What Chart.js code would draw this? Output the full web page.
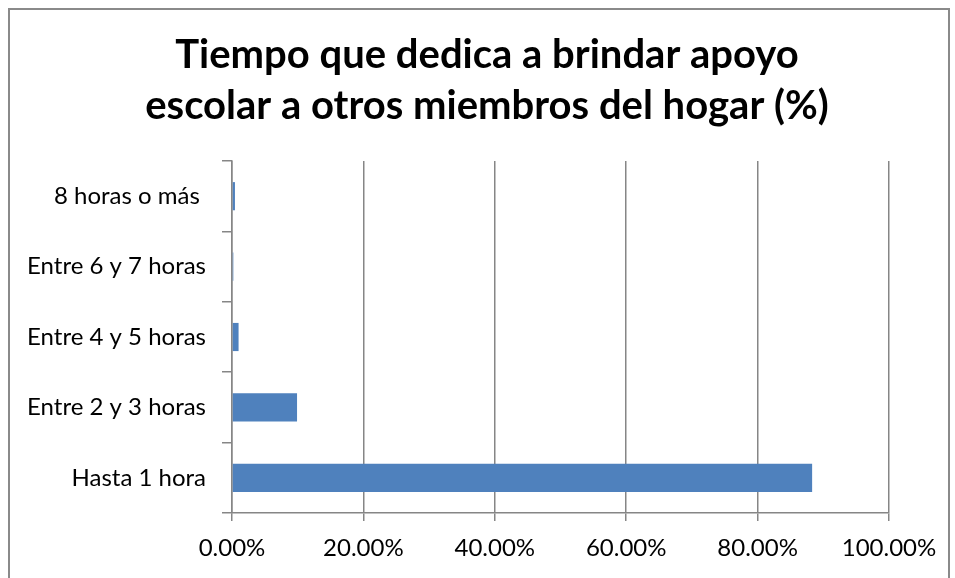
<!DOCTYPE html>
<html>
<head>
<meta charset="utf-8">
<script src="https://cdn.jsdelivr.net/npm/chart.js@4/dist/chart.umd.min.js"></script>
<style>
  html, body { margin: 0; padding: 0; background: #fff; }
  #wrap { position: relative; width: 955px; height: 578px; overflow: hidden; }
  #frame { position: absolute; left: 8px; top: 8px; width: 942px; height: 620px; border: 2px solid #8a8a8a; box-sizing: border-box; }
  canvas { position: absolute; left: 0; top: 0; }
</style>
</head>
<body>
<div id="wrap">
  <div id="frame"></div>
  <canvas id="tiempoChart" width="955" height="578"></canvas>
</div>
<script>
var categorias = ["8 horas o más ", "Entre 6 y 7 horas", "Entre 4 y 5 horas", "Entre 2 y 3 horas", "Hasta 1 hora"];
var porcentajes = [0.45, 0.2, 1.0, 9.9, 88.3];
var tituloLineas = ["Tiempo que dedica a brindar apoyo", "escolar a otros miembros del hogar (%)"];

var fuente = "Lato, 'Open Sans', sans-serif";

// titulo centrado sobre todo el lienzo, no solo sobre el area del grafico
var tituloPlugin = {
    id: "tituloCentrado",
    afterDraw: function (chart) {
        var c = chart.ctx;
        c.save();
        c.fillStyle = "#000";
        c.font = "bold 40px " + fuente;
        c.textAlign = "center";
        c.textBaseline = "middle";
        c.fillText(tituloLineas[0], 487, 55);
        c.fillText(tituloLineas[1], 487, 106);
        c.restore();
    },
};

function renderTiempoChart() {
    var ctx = document.getElementById("tiempoChart").getContext("2d");

    var myChart = new Chart(ctx, {
        type: "bar",
        data: {
            labels: categorias,
            datasets: [
                {
                    label: "Porcentaje",
                    data: porcentajes,
                    backgroundColor: "#4f81bd",
                    borderWidth: 0,
                    categoryPercentage: 0.8,
                    barPercentage: 0.5,
                },
            ],
        },
        options: {
            indexAxis: "y",
            responsive: false,
            animation: false,
            layout: {
                padding: { left: 0, right: 66, top: 161, bottom: 0 },
            },
            plugins: {
                legend: { display: false },
                tooltip: { enabled: false },
                title: { display: false },
            },
            scales: {
                x: {
                    min: 0,
                    max: 100,
                    ticks: {
                        stepSize: 20,
                        color: "#000",
                        font: { family: fuente, size: 24 },
                        padding: 13,
                        maxRotation: 0,
                        callback: function (value) {
                            return value.toFixed(2) + "%";
                        },
                    },
                    grid: {
                        color: "#868686",
                        lineWidth: 1.5,
                        tickLength: 8,
                    },
                    border: { color: "#868686", width: 1.5 },
                    afterFit: function (scale) {
                        scale.height = 65;
                    },
                },
                y: {
                    ticks: {
                        color: "#000",
                        font: { family: fuente, size: 24 },
                        padding: 16,
                    },
                    grid: {
                        drawOnChartArea: false,
                        color: "#868686",
                        lineWidth: 1.5,
                        tickLength: 10,
                        offset: true,
                    },
                    border: { color: "#868686", width: 1.5 },
                    afterFit: function (scale) {
                        scale.width = 232;
                    },
                },
            },
        },
        plugins: [tituloPlugin],
    });
}

document.addEventListener("DOMContentLoaded", function () {
    renderTiempoChart();
});
</script>
</body>
</html>
